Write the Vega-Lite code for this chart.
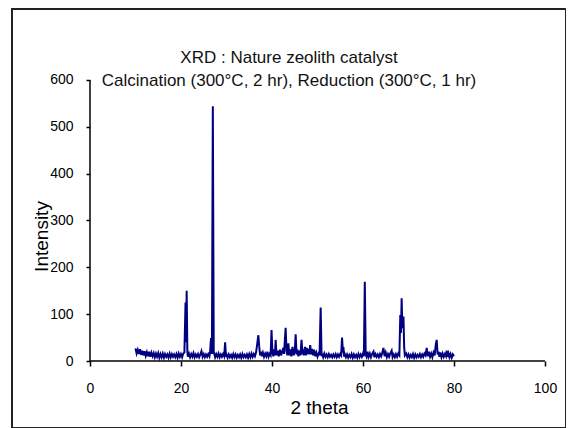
{
  "$schema": "https://vega.github.io/schema/vega-lite/v6.json",
  "autosize": "none",
  "padding": {"left": 12, "top": 9, "right": 0, "bottom": 0},
  "width": 554,
  "height": 419,
  "title": {
    "text": ["XRD : Nature zeolith catalyst", "Calcination (300°C, 2 hr), Reduction (300°C, 1 hr)"],
    "anchor": "middle",
    "frame": "group",
    "offset": -81,
    "fontSize": 17,
    "fontWeight": "normal",
    "lineHeight": 23,
    "font": "Liberation Sans",
    "color": "#111"
  },
  "data": {
    "values": [
      {"t": 10.0, "i": 27}, {"t": 10.25, "i": 16}, {"t": 10.5, "i": 24}, {"t": 10.75, "i": 15},
      {"t": 11.0, "i": 25}, {"t": 11.25, "i": 13}, {"t": 11.5, "i": 22}, {"t": 11.75, "i": 12},
      {"t": 12.0, "i": 21}, {"t": 12.25, "i": 11}, {"t": 12.5, "i": 19}, {"t": 12.75, "i": 10},
      {"t": 13.0, "i": 20}, {"t": 13.25, "i": 9}, {"t": 13.5, "i": 18}, {"t": 13.75, "i": 10},
      {"t": 14.0, "i": 17}, {"t": 14.25, "i": 8}, {"t": 14.5, "i": 16}, {"t": 14.75, "i": 9},
      {"t": 15.0, "i": 17}, {"t": 15.25, "i": 7}, {"t": 15.5, "i": 15}, {"t": 15.75, "i": 8},
      {"t": 16.0, "i": 16}, {"t": 16.25, "i": 7}, {"t": 16.5, "i": 15}, {"t": 16.75, "i": 9},
      {"t": 17.0, "i": 14}, {"t": 17.25, "i": 7}, {"t": 17.5, "i": 16}, {"t": 17.75, "i": 8},
      {"t": 18.0, "i": 15}, {"t": 18.25, "i": 9}, {"t": 18.5, "i": 14}, {"t": 18.75, "i": 8},
      {"t": 19.0, "i": 15}, {"t": 19.25, "i": 7}, {"t": 19.5, "i": 16}, {"t": 19.75, "i": 9},
      {"t": 20.0, "i": 15}, {"t": 20.25, "i": 8}, {"t": 20.5, "i": 16}, {"t": 20.75, "i": 18},
      {"t": 21.0, "i": 125}, {"t": 21.1, "i": 40}, {"t": 21.25, "i": 150}, {"t": 21.4, "i": 20},
      {"t": 21.5, "i": 9}, {"t": 21.75, "i": 16}, {"t": 22.0, "i": 8}, {"t": 22.25, "i": 15},
      {"t": 22.5, "i": 9}, {"t": 22.75, "i": 17}, {"t": 23.0, "i": 8}, {"t": 23.25, "i": 14},
      {"t": 23.5, "i": 9}, {"t": 23.75, "i": 15}, {"t": 24.0, "i": 8}, {"t": 24.25, "i": 14},
      {"t": 24.5, "i": 21}, {"t": 24.75, "i": 9}, {"t": 25.0, "i": 15}, {"t": 25.25, "i": 8},
      {"t": 25.5, "i": 14}, {"t": 25.75, "i": 9}, {"t": 26.0, "i": 15}, {"t": 26.25, "i": 10},
      {"t": 26.4, "i": 20}, {"t": 26.6, "i": 49}, {"t": 26.8, "i": 15}, {"t": 27.0, "i": 544},
      {"t": 27.2, "i": 20}, {"t": 27.5, "i": 8}, {"t": 27.75, "i": 15}, {"t": 28.0, "i": 9},
      {"t": 28.25, "i": 16}, {"t": 28.5, "i": 8}, {"t": 28.75, "i": 14}, {"t": 29.0, "i": 9},
      {"t": 29.25, "i": 15}, {"t": 29.5, "i": 10}, {"t": 29.7, "i": 40}, {"t": 29.9, "i": 9},
      {"t": 30.0, "i": 14}, {"t": 30.25, "i": 7}, {"t": 30.5, "i": 14}, {"t": 30.75, "i": 8},
      {"t": 31.0, "i": 13}, {"t": 31.25, "i": 7}, {"t": 31.5, "i": 15}, {"t": 31.75, "i": 8},
      {"t": 32.0, "i": 14}, {"t": 32.25, "i": 7}, {"t": 32.5, "i": 13}, {"t": 32.75, "i": 8},
      {"t": 33.0, "i": 14}, {"t": 33.25, "i": 7}, {"t": 33.5, "i": 15}, {"t": 33.75, "i": 8},
      {"t": 34.0, "i": 13}, {"t": 34.25, "i": 8}, {"t": 34.5, "i": 14}, {"t": 34.75, "i": 7},
      {"t": 35.0, "i": 15}, {"t": 35.25, "i": 8}, {"t": 35.5, "i": 16}, {"t": 35.75, "i": 9},
      {"t": 36.0, "i": 15}, {"t": 36.25, "i": 10}, {"t": 36.5, "i": 18}, {"t": 36.8, "i": 40},
      {"t": 37.0, "i": 55}, {"t": 37.2, "i": 30}, {"t": 37.4, "i": 12}, {"t": 37.6, "i": 20},
      {"t": 37.75, "i": 10}, {"t": 38.0, "i": 18}, {"t": 38.25, "i": 9}, {"t": 38.5, "i": 16},
      {"t": 38.75, "i": 10}, {"t": 39.0, "i": 20}, {"t": 39.25, "i": 9}, {"t": 39.5, "i": 15},
      {"t": 39.7, "i": 12}, {"t": 39.9, "i": 66}, {"t": 40.1, "i": 18}, {"t": 40.3, "i": 10},
      {"t": 40.5, "i": 25}, {"t": 40.65, "i": 12}, {"t": 40.8, "i": 45}, {"t": 41.0, "i": 12},
      {"t": 41.25, "i": 22}, {"t": 41.5, "i": 10}, {"t": 41.75, "i": 24}, {"t": 42.0, "i": 12},
      {"t": 42.25, "i": 20}, {"t": 42.5, "i": 28}, {"t": 42.65, "i": 15}, {"t": 42.8, "i": 40},
      {"t": 43.0, "i": 71}, {"t": 43.2, "i": 20}, {"t": 43.4, "i": 12}, {"t": 43.6, "i": 38},
      {"t": 43.8, "i": 12}, {"t": 44.0, "i": 25}, {"t": 44.25, "i": 10}, {"t": 44.5, "i": 30},
      {"t": 44.75, "i": 12}, {"t": 45.0, "i": 20}, {"t": 45.2, "i": 57}, {"t": 45.4, "i": 14},
      {"t": 45.6, "i": 24}, {"t": 45.8, "i": 10}, {"t": 46.0, "i": 22}, {"t": 46.25, "i": 12},
      {"t": 46.5, "i": 45}, {"t": 46.7, "i": 14}, {"t": 46.85, "i": 25}, {"t": 47.0, "i": 12},
      {"t": 47.25, "i": 30}, {"t": 47.5, "i": 12}, {"t": 47.65, "i": 28}, {"t": 47.8, "i": 15},
      {"t": 48.0, "i": 26}, {"t": 48.2, "i": 14}, {"t": 48.4, "i": 34}, {"t": 48.6, "i": 14},
      {"t": 48.8, "i": 26}, {"t": 49.0, "i": 12}, {"t": 49.25, "i": 24}, {"t": 49.5, "i": 10},
      {"t": 49.75, "i": 18}, {"t": 50.0, "i": 9}, {"t": 50.25, "i": 16}, {"t": 50.45, "i": 12},
      {"t": 50.7, "i": 114}, {"t": 50.9, "i": 10}, {"t": 51.0, "i": 16}, {"t": 51.25, "i": 8},
      {"t": 51.5, "i": 16}, {"t": 51.75, "i": 9}, {"t": 52.0, "i": 14}, {"t": 52.25, "i": 8},
      {"t": 52.5, "i": 15}, {"t": 52.75, "i": 9}, {"t": 53.0, "i": 13}, {"t": 53.25, "i": 8},
      {"t": 53.5, "i": 14}, {"t": 53.75, "i": 9}, {"t": 54.0, "i": 15}, {"t": 54.25, "i": 8},
      {"t": 54.5, "i": 14}, {"t": 54.75, "i": 9}, {"t": 55.0, "i": 15}, {"t": 55.2, "i": 12},
      {"t": 55.4, "i": 50}, {"t": 55.6, "i": 18}, {"t": 55.7, "i": 30}, {"t": 55.85, "i": 9},
      {"t": 56.0, "i": 15}, {"t": 56.25, "i": 8}, {"t": 56.5, "i": 14}, {"t": 56.75, "i": 7},
      {"t": 57.0, "i": 13}, {"t": 57.25, "i": 8}, {"t": 57.5, "i": 15}, {"t": 57.75, "i": 7},
      {"t": 58.0, "i": 14}, {"t": 58.25, "i": 8}, {"t": 58.5, "i": 13}, {"t": 58.75, "i": 7},
      {"t": 59.0, "i": 15}, {"t": 59.25, "i": 8}, {"t": 59.5, "i": 14}, {"t": 59.75, "i": 9},
      {"t": 60.0, "i": 16}, {"t": 60.2, "i": 10}, {"t": 60.4, "i": 169}, {"t": 60.6, "i": 14},
      {"t": 60.8, "i": 9}, {"t": 61.0, "i": 20}, {"t": 61.25, "i": 9}, {"t": 61.5, "i": 16},
      {"t": 61.75, "i": 8}, {"t": 62.0, "i": 15}, {"t": 62.3, "i": 20}, {"t": 62.5, "i": 8},
      {"t": 62.75, "i": 15}, {"t": 63.0, "i": 9}, {"t": 63.25, "i": 14}, {"t": 63.5, "i": 8},
      {"t": 63.75, "i": 15}, {"t": 64.0, "i": 10}, {"t": 64.25, "i": 18}, {"t": 64.5, "i": 28},
      {"t": 64.75, "i": 10}, {"t": 65.0, "i": 18}, {"t": 65.25, "i": 8}, {"t": 65.5, "i": 15},
      {"t": 65.75, "i": 9}, {"t": 66.0, "i": 16}, {"t": 66.3, "i": 22}, {"t": 66.5, "i": 8},
      {"t": 66.75, "i": 14}, {"t": 67.0, "i": 8}, {"t": 67.25, "i": 15}, {"t": 67.5, "i": 9},
      {"t": 67.75, "i": 16}, {"t": 68.0, "i": 12}, {"t": 68.2, "i": 98}, {"t": 68.35, "i": 60},
      {"t": 68.5, "i": 134}, {"t": 68.65, "i": 70}, {"t": 68.75, "i": 88}, {"t": 68.9, "i": 95},
      {"t": 69.05, "i": 30}, {"t": 69.2, "i": 12}, {"t": 69.5, "i": 16}, {"t": 69.75, "i": 8},
      {"t": 70.0, "i": 14}, {"t": 70.25, "i": 7}, {"t": 70.5, "i": 13}, {"t": 70.75, "i": 8},
      {"t": 71.0, "i": 15}, {"t": 71.25, "i": 7}, {"t": 71.5, "i": 14}, {"t": 71.75, "i": 8},
      {"t": 72.0, "i": 13}, {"t": 72.25, "i": 9}, {"t": 72.5, "i": 15}, {"t": 72.75, "i": 8},
      {"t": 73.0, "i": 14}, {"t": 73.25, "i": 9}, {"t": 73.5, "i": 16}, {"t": 73.75, "i": 12},
      {"t": 74.0, "i": 28}, {"t": 74.25, "i": 10}, {"t": 74.5, "i": 20}, {"t": 74.75, "i": 9},
      {"t": 75.0, "i": 16}, {"t": 75.25, "i": 8}, {"t": 75.5, "i": 18}, {"t": 75.75, "i": 12},
      {"t": 76.0, "i": 35}, {"t": 76.2, "i": 45}, {"t": 76.4, "i": 14}, {"t": 76.6, "i": 20},
      {"t": 76.8, "i": 9}, {"t": 77.0, "i": 18}, {"t": 77.25, "i": 8}, {"t": 77.5, "i": 16},
      {"t": 77.75, "i": 9}, {"t": 78.0, "i": 15}, {"t": 78.25, "i": 10}, {"t": 78.4, "i": 22},
      {"t": 78.6, "i": 9}, {"t": 78.8, "i": 16}, {"t": 79.0, "i": 8}, {"t": 79.25, "i": 15},
      {"t": 79.5, "i": 7}, {"t": 79.75, "i": 14}, {"t": 80.0, "i": 10}
    ]
  },
  "layer": [
    {
      "mark": {"type": "line", "color": "#000080", "strokeWidth": 2},
      "encoding": {
        "x": {
          "field": "t",
          "type": "quantitative",
          "scale": {"domain": [-17.14, 104.62], "nice": false, "zero": false},
          "axis": {
            "values": [0, 20, 40, 60, 80, 100],
            "offset": -67,
            "tickSize": 5,
            "labelPadding": 15,
            "title": "2 theta",
            "titleX": 307,
            "titleY": 46,
            "titleAlign": "center",
            "titleBaseline": "middle"
          }
        },
        "y": {
          "field": "i",
          "type": "quantitative",
          "scale": {"domain": [-143.06, 751.6], "nice": false, "zero": false},
          "axis": {
            "values": [0, 100, 200, 300, 400, 500, 600],
            "offset": -78,
            "tickSize": 4,
            "labelPadding": 13,
            "title": "Intensity",
            "titleX": -49,
            "titleY": 227,
            "titleAngle": -90,
            "titleAlign": "center",
            "titleBaseline": "middle"
          }
        }
      }
    },
    {
      "data": {"values": [{}]},
      "mark": {"type": "rule", "color": "#000", "strokeWidth": 1.5},
      "encoding": {"x": {"datum": 0}, "x2": {"datum": 100}, "y": {"datum": 0}}
    },
    {
      "data": {"values": [{}]},
      "mark": {"type": "rule", "color": "#000", "strokeWidth": 1.5},
      "encoding": {"x": {"datum": 0}, "y": {"datum": 0}, "y2": {"datum": 600}}
    }
  ],
  "config": {
    "view": {"stroke": "#222", "strokeWidth": 2},
    "font": "Liberation Sans",
    "axis": {
      "domain": false,
      "grid": false,
      "tickColor": "#000",
      "tickWidth": 1.5,
      "labelColor": "#000",
      "labelFontSize": 14,
      "labelFont": "Liberation Sans",
      "titleColor": "#000",
      "titleFontSize": 19,
      "titleFontWeight": "normal",
      "titleFont": "Liberation Sans"
    }
  }
}
